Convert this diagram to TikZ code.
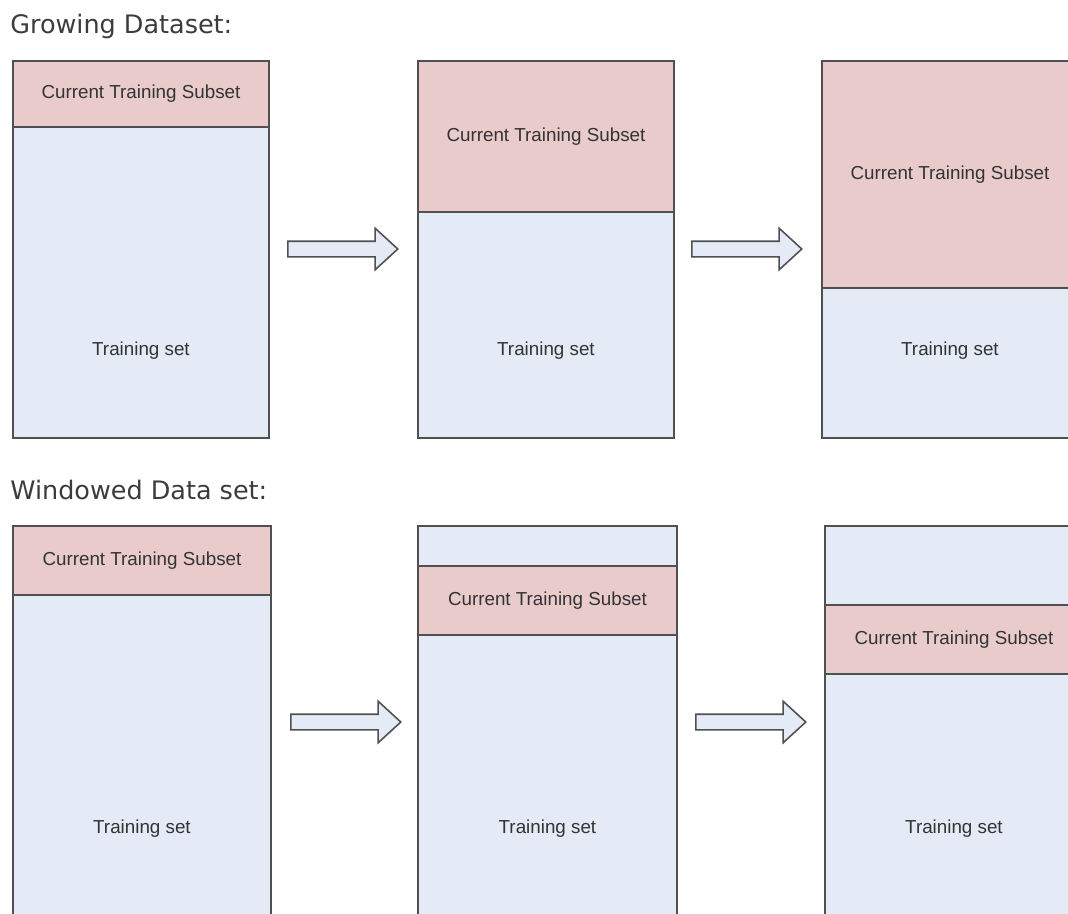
\documentclass[tikz,border=0pt]{standalone}
\usepackage{fontspec}
\setmainfont{Liberation Sans}
\newfontfamily\titlefont{DejaVu Sans}
\usetikzlibrary{positioning,shapes.arrows}
\definecolor{subsetpink}{HTML}{E9CBCB}
\definecolor{setblue}{HTML}{E4EAF6}
\definecolor{edgegray}{HTML}{505050}
\definecolor{titlegray}{HTML}{3C3C3C}
\definecolor{labelgray}{HTML}{333333}
\tikzset{
  title/.style={anchor=base west, inner sep=0pt, text=titlegray, font=\titlefont\fontsize{14.5}{17}\selectfont},
  trainbox/.style={draw=edgegray, line width=1.1pt, fill=setblue, anchor=north west, inner sep=0pt},
  subsetbox/.style={trainbox, fill=subsetpink, text=labelgray, font=\fontsize{10.7}{12}\selectfont},
  lbl/.style={text=labelgray, font=\fontsize{10.7}{12}\selectfont},
  blockarrow/.style={single arrow, draw=edgegray, fill=setblue, line width=0.9pt,
    inner xsep=0pt, inner ysep=0.14cm, minimum height=2.2cm, single arrow head extend=0.26cm,
    single arrow tip angle=85, anchor=tail}
}
\begin{document}
\begin{tikzpicture}
    \clip (0,0) rectangle (21.36,-18.26);
    \node[title] (growtitle) at (0.2,-0.66) {Growing Dataset:};
    \node[title] (windtitle) at (0.2,-9.98) {Windowed Data set:};

    % growing dataset
    \node[trainbox, minimum width=5.12cm, minimum height=7.54cm] (grow1) at (0.24,-1.2) {};
    \node[trainbox, minimum width=5.12cm, minimum height=7.54cm] (grow2) at (8.34,-1.2) {};
    \node[trainbox, minimum width=5.12cm, minimum height=7.54cm] (grow3) at (16.42,-1.2) {};
    \node[subsetbox, minimum width=5.12cm, minimum height=1.32cm] (growsub1) at (grow1.north west) {Current Training Subset};
    \node[subsetbox, minimum width=5.12cm, minimum height=3.02cm] (growsub2) at (grow2.north west) {Current Training Subset};
    \node[subsetbox, minimum width=5.12cm, minimum height=4.54cm] (growsub3) at (grow3.north west) {Current Training Subset};
    \node[lbl] (growset1) at (grow1.center |- 0,-7.02) {Training set};
    \node[lbl] (growset2) at (grow2.center |- 0,-7.02) {Training set};
    \node[lbl] (growset3) at (grow3.center |- 0,-7.02) {Training set};
    \node[blockarrow] (growstep1) at (5.74,-4.98) {};
    \node[blockarrow] (growstep2) at (13.82,-4.98) {};

    % windowed data set
    \node[trainbox, minimum width=5.16cm, minimum height=8cm] (wind1) at (0.24,-10.5) {};
    \node[trainbox, minimum width=5.18cm, minimum height=8cm] (wind2) at (8.34,-10.5) {};
    \node[trainbox, minimum width=5.16cm, minimum height=8cm] (wind3) at (16.48,-10.5) {};
    \node[subsetbox, minimum width=5.16cm, minimum height=1.38cm] (windsub1) at (wind1.north west) {Current Training Subset};
    \node[subsetbox, minimum width=5.18cm, minimum height=1.38cm] (windsub2) at (8.34,-11.3) {Current Training Subset};
    \node[subsetbox, minimum width=5.16cm, minimum height=1.38cm] (windsub3) at (16.48,-12.08) {Current Training Subset};
    \node[lbl] (windset1) at (wind1.center |- 0,-16.58) {Training set};
    \node[lbl] (windset2) at (wind2.center |- 0,-16.58) {Training set};
    \node[lbl] (windset3) at (wind3.center |- 0,-16.58) {Training set};
    \node[blockarrow] (windstep1) at (5.8,-14.44) {};
    \node[blockarrow] (windstep2) at (13.9,-14.44) {};
\end{tikzpicture}
\end{document}
